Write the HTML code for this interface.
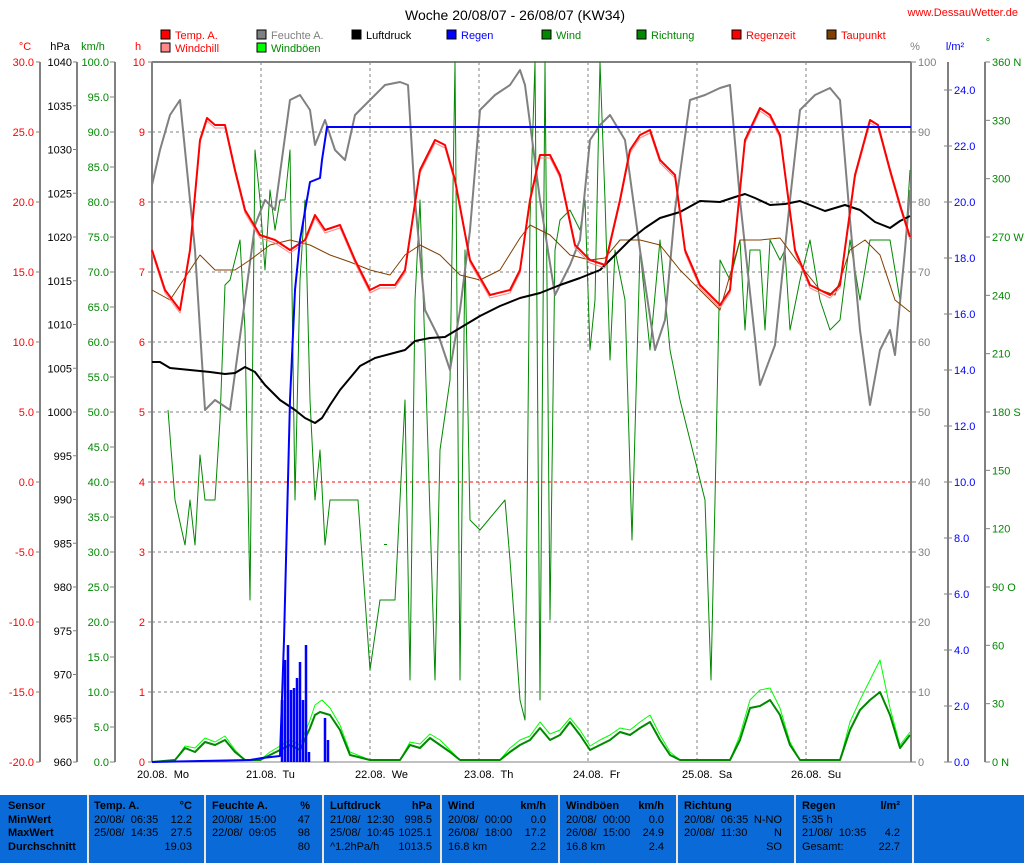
<!DOCTYPE html>
<html><head><meta charset="utf-8"><style>
body{margin:0;background:#fff;width:1024px;height:863px;overflow:hidden;font-family:"Liberation Sans",sans-serif}
svg{position:absolute;left:0;top:0}
#tbl{position:absolute;left:0;top:795px;width:1024px;height:68px;background:#0a6bd8}
.c{position:absolute;top:0;height:68px;font-size:11px;color:#000;line-height:13.5px;padding-top:5px}
.sep{position:absolute;top:0;width:2px;height:68px;background:#f0e6d0}
.r{position:absolute;right:6px}
b{font-weight:bold}
</style></head><body>
<svg id="s" width="1024" height="795" font-family="Liberation Sans, sans-serif" font-size="11"></svg>
<div id="tbl">
<div class="sep" style="left:87px"></div><div class="sep" style="left:204px"></div><div class="sep" style="left:322px"></div><div class="sep" style="left:440px"></div><div class="sep" style="left:558px"></div><div class="sep" style="left:676px"></div><div class="sep" style="left:794px"></div><div class="sep" style="left:912px"></div>
<div class="c" style="left:8px;width:78px"><b>Sensor</b><br><b>MinWert</b><br><b>MaxWert</b><br><b>Durchschnitt</b></div>
<div class="c" style="left:94px;width:104px"><b>Temp. A.</b><span class="r"><b>°C</b></span><br>20/08/&nbsp; 06:35<span class="r">12.2</span><br>25/08/&nbsp; 14:35<span class="r">27.5</span><br><span class="r">19.03</span></div>
<div class="c" style="left:212px;width:104px"><b>Feuchte A.</b><span class="r"><b>%</b></span><br>20/08/&nbsp; 15:00<span class="r">47</span><br>22/08/&nbsp; 09:05<span class="r">98</span><br><span class="r">80</span></div>
<div class="c" style="left:330px;width:104px"><b>Luftdruck</b><span class="r" style="right:2px"><b>hPa</b></span><br>21/08/&nbsp; 12:30<span class="r" style="right:2px">998.5</span><br>25/08/&nbsp; 10:45<span class="r" style="right:2px">1025.1</span><br>^1.2hPa/h<span class="r" style="right:2px">1013.5</span></div>
<div class="c" style="left:448px;width:104px"><b>Wind</b><span class="r"><b>km/h</b></span><br>20/08/&nbsp; 00:00<span class="r">0.0</span><br>26/08/&nbsp; 18:00<span class="r">17.2</span><br>16.8 km<span class="r">2.2</span></div>
<div class="c" style="left:566px;width:104px"><b>Windböen</b><span class="r"><b>km/h</b></span><br>20/08/&nbsp; 00:00<span class="r">0.0</span><br>26/08/&nbsp; 15:00<span class="r">24.9</span><br>16.8 km<span class="r">2.4</span></div>
<div class="c" style="left:684px;width:104px"><b>Richtung</b><br>20/08/&nbsp; 06:35<span class="r">N-NO</span><br>20/08/&nbsp; 11:30<span class="r">N</span><br><span class="r">SO</span></div>
<div class="c" style="left:802px;width:104px"><b>Regen</b><span class="r"><b>l/m²</b></span><br>5:35 h<br>21/08/&nbsp; 10:35<span class="r">4.2</span><br>Gesamt:<span class="r">22.7</span></div>
</div>
<script>
const s=document.getElementById('s');let h='';
const T=(x,y,t,c,a)=>{h+=`<text x="${x}" y="${y}" fill="${c}" text-anchor="${a||'start'}">${t}</text>`};
const L=(x1,y1,x2,y2,c,w,d)=>{h+=`<line x1="${x1}" y1="${y1}" x2="${x2}" y2="${y2}" stroke="${c}" stroke-width="${w||1}" ${d?'stroke-dasharray="'+d+'"':''}/>`};
const P=(pts,c,w)=>{h+=`<polyline fill="none" stroke="${c}" stroke-width="${w||1}" stroke-linejoin="round" points="${pts}"/>`};
T(515,20,'Woche 20/08/07 - 26/08/07 (KW34)','#000','middle');h=h.replace('<text','<text font-size="14"');
T(1018,16,'www.DessauWetter.de','#f00','end');
const lg=[[161,38,'#f00','Temp. A.','#f00'],[161,51,'#f88','Windchill','#f00'],[257,38,'#808080','Feuchte A.','#808080'],[257,51,'#0f0','Windböen','#080'],[352,38,'#000','Luftdruck','#000'],[447,38,'#00f','Regen','#00f'],[542,38,'#080','Wind','#080'],[637,38,'#080','Richtung','#080'],[732,38,'#f00','Regenzeit','#f00'],[827,38,'#804000','Taupunkt','#f00']];
lg.forEach(l=>{h+=`<rect x="${l[0]}" y="${l[1]-8}" width="9" height="9" fill="${l[2]}" stroke="#000"/>`;T(l[0]+14,l[1]+1,l[3],l[4])});
T(25,50,'°C','#f00','middle');T(60,50,'hPa','#000','middle');T(93,50,'km/h','#080','middle');T(138,50,'h','#f00','middle');
T(915,50,'%','#808080','middle');T(955,50,'l/m²','#00f','middle');T(988,46,'°','#080','middle');
for(let i=1;i<10;i++){let y=62+i*70;L(152,y,911,y,i==6?'#f00':'#808080',1,'3,3')}
[261,370,479,588,697,806].forEach(x=>L(x,62,x,762,'#808080',1,'3,3'));
[40,77,115,948,985].forEach(x=>L(x,62,x,762,'#808080',2));
L(152,62,911,62,'#808080',2);L(152,62,152,762,'#808080',2);L(911,62,911,762,'#808080',2);L(152,762,911,762,'#808080',1);
for(let i=0;i<=10;i++){let y=62+i*70;L(36,y,40,y,'#808080');T(34,y+4,(30-5*i).toFixed(1),'#f00','end');L(148,y,152,y,'#808080');T(145,y+4,10-i,'#f00','end');L(911,y,916,y,'#808080');T(918,y+4,100-10*i,'#808080')}
for(let i=0;i<=16;i++){let y=62+i*43.75;L(73,y,77,y,'#808080');T(72,y+4,1040-5*i,'#000','end')}
for(let i=0;i<=20;i++){let y=62+i*35;L(110,y,115,y,'#808080');T(109,y+4,(100-5*i).toFixed(1),'#080','end')}
for(let i=0;i<=12;i++){let y=762-i*56;L(944,y,952,y,'#808080');T(954,y+4,(2*i).toFixed(1),'#00f')}
const dn={12:'360 N',9:'270 W',6:'180 S',3:'90 O',0:'0 N'};
for(let i=0;i<=12;i++){let y=762-i*700/12;L(985,y,990,y,'#808080');T(992,y+4,dn[i]||30*i,'#080')}
[['20.08.  Mo',152],['21.08.  Tu',261],['22.08.  We',370],['23.08.  Th',479],['24.08.  Fr',588],['25.08.  Sa',697],['26.08.  Su',806]].forEach(d=>{h+=`<text x="${d[1]-15}" y="778" fill="#000" xml:space="preserve">${d[0]}</text>`});
P("168,410 175,500 185,545 190,500 195,545 200,455 205,500 215,500 220,420 225,285 230,280 240,240 245,330 250,600 255,150 260,200 265,270 270,190 275,230 280,200 285,200 290,150 295,500 300,280 305,200 310,400 315,500 320,450 325,545 330,500 340,500 358,500 370,670 380,600 395,600 405,400 410,680 415,300 420,200 425,350 435,680 440,450 450,380 455,62 460,680 465,250 470,520 480,530 505,500 510,560 520,700 525,720 530,220 535,62 540,700 545,62 550,620 555,250 560,220 570,210 580,230 585,200 590,350 595,300 600,62 605,200 610,360 615,250 625,300 632,540 640,250 650,350 660,240 670,350 680,400 705,500 711,680 715,500 720,260 730,280 740,240 745,330 750,250 760,250 765,330 770,240 780,260 785,250 790,330 800,280 810,240 820,300 830,330 840,320 850,240 860,300 870,240 880,240 890,240 900,300 905,250 910,170",'#080',1);
P("152,762 175,760 185,746 195,748 205,738 215,742 225,736 235,750 245,760 260,760 270,752 280,746 290,740 300,745 310,720 315,705 322,700 330,708 340,725 350,752 370,760 400,760 410,742 420,744 430,734 440,740 450,750 460,760 500,760 510,748 520,740 530,736 540,722 550,734 560,730 570,718 580,730 590,746 600,740 610,735 620,728 630,730 640,722 650,715 660,735 670,752 680,760 730,760 740,735 750,700 760,690 770,688 780,708 790,742 800,760 840,760 850,722 860,700 870,680 880,660 890,708 900,745 910,732",'#0f0',1);
P("152,762 175,760 185,748 195,752 205,742 215,745 225,740 235,752 245,760 260,760 270,755 280,750 290,745 300,750 310,728 315,715 320,712 330,715 340,730 350,755 370,760 400,760 410,745 420,748 430,738 440,745 450,752 460,760 500,760 510,752 520,745 530,740 540,728 550,740 560,735 570,722 580,735 590,750 600,745 610,740 620,732 630,735 640,728 650,722 660,740 670,755 680,760 730,760 740,740 750,708 760,706 770,700 780,715 790,745 800,760 840,760 850,730 860,710 870,700 880,692 890,715 900,748 910,735",'#080',2);
P("152,185 160,150 170,115 180,100 185,150 195,250 205,410 215,400 230,410 245,300 255,225 265,200 275,210 290,100 300,95 310,110 315,145 325,120 335,150 345,160 355,115 370,100 385,85 400,82 408,85 415,200 425,310 440,340 450,370 460,310 470,230 480,110 495,95 510,85 520,70 525,85 540,200 555,295 570,265 580,240 590,140 600,125 610,115 625,140 640,250 655,350 665,320 675,210 690,100 705,95 720,88 730,85 740,200 760,385 775,345 790,200 800,110 815,95 830,88 840,100 850,220 860,330 870,405 880,350 890,330 895,355 905,250 910,190",'#808080',2);
P("152,290 170,300 190,270 200,255 215,270 235,270 250,260 270,245 290,240 310,245 330,255 350,262 370,270 390,275 405,255 420,245 440,255 460,275 480,280 500,270 520,238 530,225 550,235 570,255 590,260 605,258 620,240 640,240 660,245 680,270 700,290 720,310 740,240 760,240 780,238 800,265 820,290 835,295 850,250 865,240 880,255 895,300 910,312",'#804000',1);
P("152,362 160,362 170,368 190,370 210,372 225,374 235,373 245,367 255,372 265,385 280,400 295,410 305,418 315,423 322,418 330,405 340,390 350,378 360,366 375,358 390,354 405,350 415,341 430,338 445,337 460,328 480,316 500,306 520,298 540,293 560,285 580,278 600,270 615,255 630,240 645,228 660,218 680,212 700,201 720,202 735,197 745,194 755,198 770,205 785,204 800,201 815,207 825,211 845,205 860,210 875,222 890,228 900,221 910,216",'#000',2);
const tp="152,250 165,290 180,310 190,250 200,140 207,118 215,125 225,125 235,170 245,210 260,235 275,240 290,250 305,240 315,215 325,230 340,225 355,260 370,290 380,285 395,285 405,270 420,170 435,140 445,145 455,180 470,260 490,295 510,290 520,270 530,200 540,155 550,155 560,175 575,245 590,260 605,265 620,200 630,150 640,135 650,130 660,160 675,175 685,250 700,285 720,305 730,290 745,140 760,108 770,115 780,135 795,250 810,285 830,295 840,285 855,175 870,120 878,125 890,170 900,205 910,237";
P(tp.split(' ').map(p=>{let[a,b]=p.split(',');return a+','+(+b+3)}).join(' '),'#f88',1);
P(tp,'#f00',2);
P("152,762 250,760 262,758 280,756 284,640 290,400 295,290 300,240 310,182 320,178 322,160 327,127 911,127",'#00f',2);
[[282,700],[285,660],[288,645],[291,690],[294,688],[297,678],[300,662],[303,700],[306,645],[309,752],[325,718],[328,740]].forEach(b=>L(b[0],762,b[0],b[1],'#00f',2.5));
h+=`<rect x="384" y="544" width="3" height="1" fill="#080"/>`;
s.innerHTML=h;
</script>
</body></html>
